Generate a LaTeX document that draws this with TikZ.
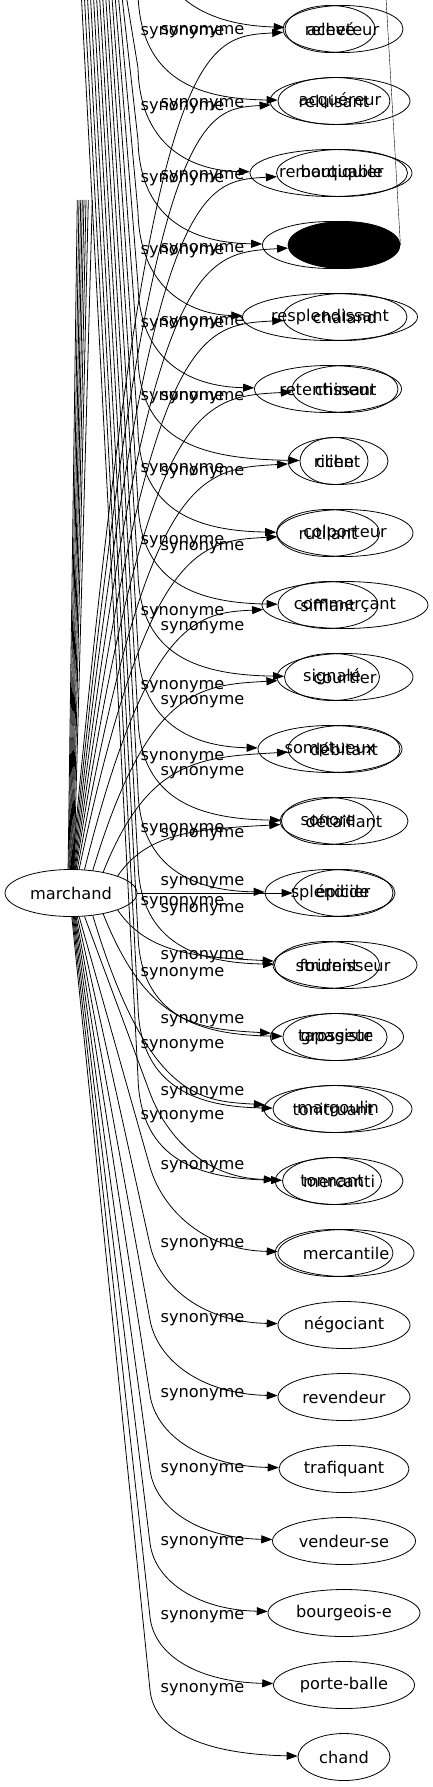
\documentclass[tikz,border=0pt]{standalone}
\usepackage{fontspec}
\setmainfont{DejaVu Sans}
\usetikzlibrary{arrows.meta,shapes.geometric,calc}

\begin{document}
\begin{tikzpicture}[x=1pt,y=-1pt,
  word/.style={draw,ellipse,line width=0.8pt,inner sep=0pt,minimum height=47pt,font=\fontsize{16.2}{19}\selectfont},
  syn/.style={-{Triangle[length=11pt,width=8pt]},line width=0.8pt},
  lbl/.style={font=\fontsize{16.2}{19}\selectfont}
]
\useasboundingbox (0,0) rectangle (433,1787);
\clip (0,0) rectangle (433,1787);

\node[word,minimum width=132pt] (marchand) at (71,893) {marchand};

% second layer
\node[word,minimum width=90pt] (b1) at (330,29) {relevé};
\node[word,minimum width=112pt] (b2) at (334,101) {reluisant};
\node[word,minimum width=162pt] (b3) at (331,173) {remarquable};
\node[word,minimum width=137pt] (b4) at (331,245) {};
\node[word,minimum width=175pt] (b5) at (330,317) {resplendissant};
\node[word,minimum width=147pt] (b6) at (328,389) {retentissant};
\node[word,minimum width=68pt] (b7) at (334,461) {riche};
\node[word,minimum width=103pt] (b8) at (328,533) {rutilant};
\node[word,minimum width=100pt] (b9) at (328,605) {sifflant};
\node[word,minimum width=95pt] (b10) at (332,677) {signalé};
\node[word,minimum width=144pt] (b11) at (330,749) {somptueux};
\node[word,minimum width=93pt] (b12) at (328,821) {sonore};
\node[word,minimum width=130pt] (b13) at (330,893) {splendide};
\node[word,minimum width=105pt] (b14) at (327,965) {strident};
\node[word,minimum width=104pt] (b15) at (335,1037) {tapageur};
\node[word,minimum width=120pt] (b16) at (333,1109) {tonitruant};
\node[word,minimum width=99pt] (b17) at (332,1181) {tonnant};
\node[word,minimum width=118pt] (b18) at (334,1253) {};

% first layer
\node[word,minimum width=120pt] (a1) at (343,29) {acheteur};
\node[word,minimum width=140pt] (a2) at (340,101) {acquéreur};
\node[word,minimum width=131pt] (a3) at (342,173) {boutiquier};
\node[word,minimum width=112pt,fill=black] (a4) at (344,245) {};
\node[word,minimum width=124pt] (a5) at (345,317) {chaland};
\node[word,minimum width=106pt] (a6) at (345,389) {chineur};
\node[word,minimum width=100pt] (a7) at (338,461) {client};
\node[word,minimum width=136pt] (a8) at (345,533) {colporteur};
\node[word,minimum width=166pt] (a9) at (345,605) {commerçant};
\node[word,minimum width=136pt] (a10) at (345,677) {courtier};
\node[word,minimum width=112pt] (a11) at (344,749) {débitant};
\node[word,minimum width=128pt] (a12) at (344,821) {détaillant};
\node[word,minimum width=100pt] (a13) at (343,893) {épicier};
\node[word,minimum width=144pt] (a14) at (345,965) {fournisseur};
\node[word,minimum width=133pt] (a15) at (337,1037) {grossiste};
\node[word,minimum width=148pt] (a16) at (338,1109) {margoulin};
\node[word,minimum width=128pt] (a17) at (339,1181) {mercanti};
\node[word,minimum width=136pt] (a18) at (346,1253) {mercantile};
\node[word,minimum width=132pt] (a19) at (344,1325) {négociant};
\node[word,minimum width=132pt] (a20) at (344,1397) {revendeur};
\node[word,minimum width=130pt] (a21) at (344,1469) {trafiquant};
\node[word,minimum width=143pt] (a22) at (344,1541) {vendeur-se};
\node[word,minimum width=152pt] (a23) at (344,1613) {bourgeois-e};
\node[word,minimum width=141pt] (a24) at (344,1685) {porte-balle};
\node[word,minimum width=92pt] (a25) at (344,1757) {chand};

% edges of the first layer, upwards
\foreach \k/\ang/\ly in {1/88/32,2/86/105,3/84/177,4/82/250,5/80/323,6/78/398,
    7/75/473,8/71/548,9/60/628,10/46/702,11/33/773,12/20/835} {
  \pgfmathsetmacro\ty{29+72*(\k-1)}
  \draw[syn] (marchand.\ang) .. controls (148,\ty+10) and (200,\ty+8) .. (a\k);
  \node[lbl] at (202.5,\ly) {synonyme};
}
\draw[syn] (marchand) -- (a13);
\node[lbl] at (202.5,883) {synonyme};
% edges of the first layer, downwards
\foreach \k/\ang/\ly in {14/-20/910,15/-33/957,16/-46/1021} {
  \pgfmathsetmacro\ty{29+72*(\k-1)}
  \draw[syn] (marchand.\ang) .. controls (148,\ty-10) and (200,\ty-8) .. (a\k);
  \node[lbl] at (202.5,\ly) {synonyme};
}
\foreach \k/\ang/\ly in {17/-60/1093,18/-71/1167,19/-75/1245,20/-78/1320,
    21/-80/1395,22/-82/1470,23/-84/1543,24/-86/1617,25/-88/1690} {
  \pgfmathsetmacro\ty{29+72*(\k-1)}
  \draw[syn] (marchand.\ang) -- (150,\ly)
    .. controls ($(150,\ly)!-40pt!(marchand.\ang)$) and (200,\ty-3) .. (a\k);
  \node[lbl] at (202.5,\ly) {synonyme};
}

% edges of the second layer, coming from above
\coordinate (bs1) at (150,-60);
\draw[syn] (bs1) .. controls (165,5) and (215,25) .. (b1);
\foreach \k/\sx/\ly in {2/125/33,3/122/108,4/119/180,5/116/252,6/113/325,7/110/398,
    8/107/470,9/104/542,10/101/613,11/98/687,12/95/758,13/92/830,14/89/903,
    15/86/974,16/83/1046,17/80/1117} {
  \pgfmathsetmacro\ty{29+72*(\k-1)}
  \coordinate (bs\k) at (\sx,-30);
  \draw[syn] (bs\k) -- (138,\ly-40) .. controls (140,\ty-20) and (200,\ty-2) .. (b\k);
  \node[lbl] at (182.5,\ly) {synonyme};
}

% cut bundle over marchand
\foreach \i/\x/\ang in {1/77.3/97,2/79/95,3/80.7/93,4/82.3/91,5/84/89,6/86/87,7/88.3/85,8/92.3/83} {
  \coordinate (cut\i) at (\x,200);
  \draw[line width=0.8pt] (cut\i) -- (marchand.\ang);
}
\coordinate (topcut) at (386,-2);
\draw[line width=0.4pt] (topcut) -- (a4.east);
\end{tikzpicture}
\end{document}
